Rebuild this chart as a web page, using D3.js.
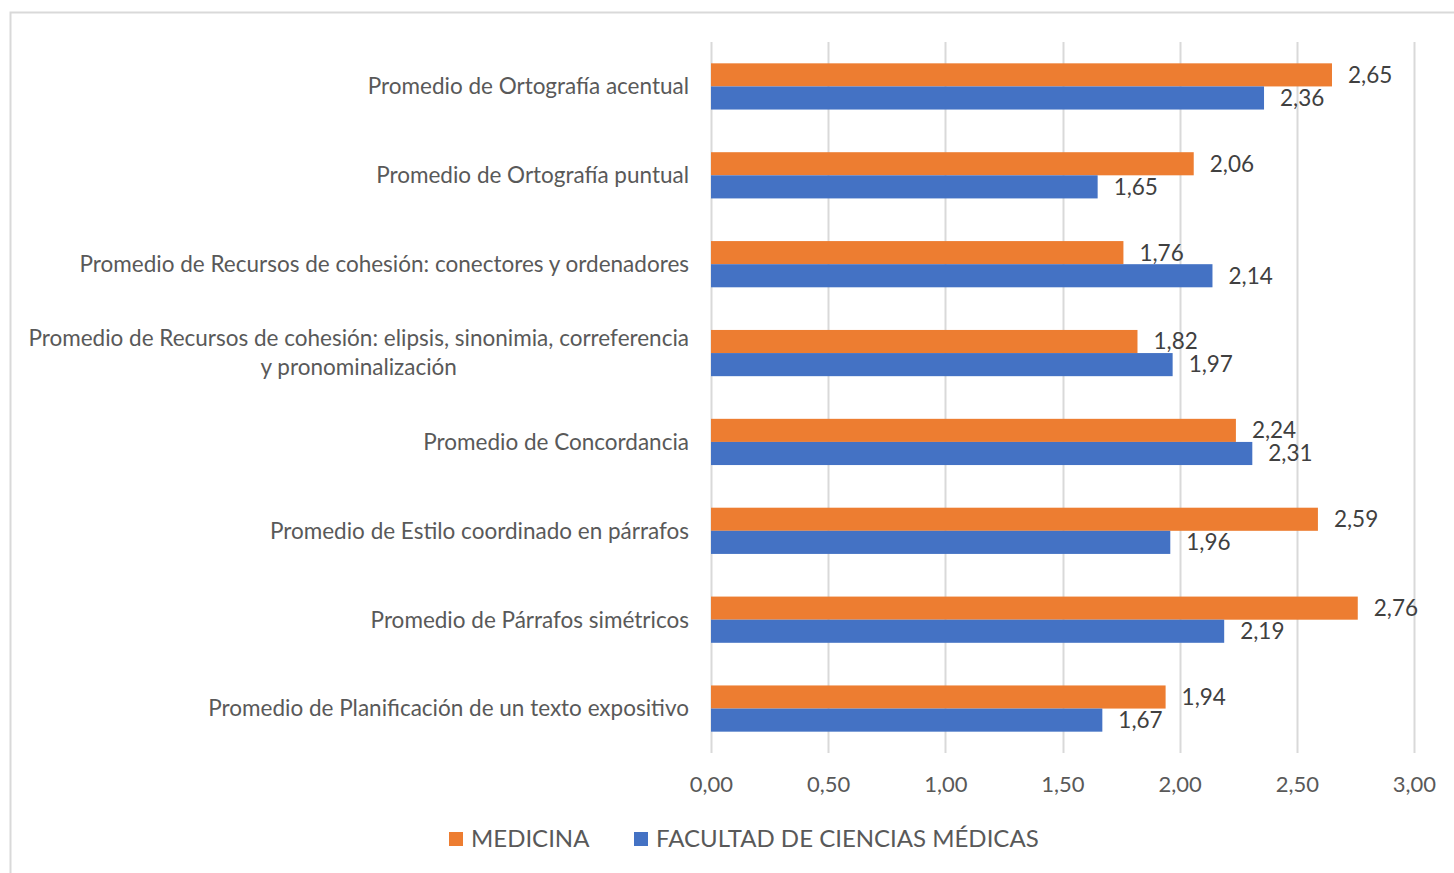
<!DOCTYPE html>
<html>
<head>
<meta charset="utf-8">
<script src="https://cdn.jsdelivr.net/npm/d3@7"></script>
<style>
  body { margin: 0; background: #fff; }
  text { font-family: Lato, "Open Sans", sans-serif; }
</style>
</head>
<body>
<div id="chart"></div>
<script>
// categories (top to bottom), each entry is a list of lines
var categories = [
  ["Promedio de Ortografía acentual"],
  ["Promedio de Ortografía puntual"],
  ["Promedio de Recursos de cohesión: conectores y ordenadores"],
  ["Promedio de Recursos de cohesión: elipsis, sinonimia, correferencia", "y pronominalización"],
  ["Promedio de Concordancia"],
  ["Promedio de Estilo coordinado en párrafos"],
  ["Promedio de Párrafos simétricos"],
  ["Promedio de Planificación de un texto expositivo"]
];
var medicina = [2.65, 2.06, 1.76, 1.82, 2.24, 2.59, 2.76, 1.94];
var facultad = [2.36, 1.65, 2.14, 1.97, 2.31, 1.96, 2.19, 1.67];
var seriesNames = ["MEDICINA", "FACULTAD DE CIENCIAS MÉDICAS"];
var seriesColors = ["#ED7D31", "#4472C4"];
var xTicks = [0, 0.5, 1, 1.5, 2, 2.5, 3];

// chart size
var W = 1454, H = 873;
var plot = {left: 711, right: 1414, top: 42, bottom: 753};

var svg = d3.select("#chart").append("svg")
  .attr("width", W)
  .attr("height", H);

// outer border of the chart area
svg.append("rect")
  .attr("x", 10.5).attr("y", 12.5)
  .attr("width", W + 20).attr("height", H + 20)
  .attr("fill", "none")
  .attr("stroke", "#d9d9d9")
  .attr("stroke-width", 2);

var x = d3.scaleLinear().domain([0, 3]).range([plot.left, plot.right]);
var y = d3.scaleBand().domain(d3.range(categories.length))
  .range([plot.top, plot.bottom]).paddingInner(0.48).paddingOuter(0.24);
var ySub = d3.scaleBand().domain([0, 1]).range([0, y.bandwidth()]);

var fmt = function(v) { return d3.format(".2f")(v).replace(".", ","); };

// gridlines
svg.append("g").selectAll("line").data(xTicks).enter().append("line")
  .attr("x1", function(d) { return Math.round(x(d)) + 0.5; })
  .attr("x2", function(d) { return Math.round(x(d)) + 0.5; })
  .attr("y1", plot.top).attr("y2", plot.bottom)
  .attr("stroke", "#d9d9d9").attr("stroke-width", 2);

// x axis labels
var xAxis = svg.append("g")
  .attr("transform", "translate(0," + (plot.bottom + 31) + ")")
  .call(d3.axisBottom(x).tickValues(xTicks).tickFormat(fmt).tickSize(0).tickPadding(0));
xAxis.select(".domain").remove();
xAxis.selectAll("text")
  .attr("dy", "0.35em")
  .attr("fill", "#595959")
  .style("font-family", "Lato, sans-serif")
  .style("font-size", "22px");

// category labels
var catG = svg.append("g").selectAll("text").data(categories).enter().append("text")
  .attr("fill", "#595959")
  .style("font-size", "22.5px")
  .attr("transform", function(d, i) {
    return "translate(" + (plot.left - 22) + "," + (y(i) + y.bandwidth() / 2) + ")";
  });
catG.each(function(lines) {
  var t = d3.select(this);
  var n = lines.length;
  lines.forEach(function(l, k) {
    t.append("tspan")
      .attr("x", 0)
      .attr("y", (k - (n - 1) / 2) * 29)
      .attr("dy", "0.35em")
      .text(l);
  });
});
// single line: right aligned; multi-line: centred block ending at the axis
catG.attr("text-anchor", function(d) { return d.length > 1 ? "middle" : "end"; })
  .each(function(d) {
    if (d.length > 1) {
      var bb = this.getBBox();
      var cur = d3.select(this).attr("transform");
      d3.select(this).attr("transform", cur + " translate(" + (-bb.width / 2) + ",0)");
    }
  });

// bars and value labels
[medicina, facultad].forEach(function(vals, s) {
  var g = svg.append("g");
  g.selectAll("rect").data(vals).enter().append("rect")
    .attr("x", x(0))
    .attr("y", function(d, i) { return y(i) + ySub(s); })
    .attr("width", function(d) { return x(d) - x(0); })
    .attr("height", ySub.bandwidth())
    .attr("fill", seriesColors[s]);
  g.selectAll("text").data(vals).enter().append("text")
    .attr("x", function(d) { return x(d) + 16; })
    .attr("y", function(d, i) { return y(i) + ySub(s) + ySub.bandwidth() / 2; })
    .attr("dy", "0.35em")
    .attr("fill", "#404040")
    .style("font-size", "22.5px")
    .text(fmt);
});

// legend
var legend = svg.append("g").attr("transform", "translate(449,839)");
var legX = [0, 185];
seriesNames.forEach(function(name, s) {
  legend.append("rect")
    .attr("x", legX[s]).attr("y", -7)
    .attr("width", 14).attr("height", 14)
    .attr("fill", seriesColors[s]);
  legend.append("text")
    .attr("x", legX[s] + 22).attr("y", 0)
    .attr("dy", "0.35em")
    .attr("fill", "#595959")
    .style("font-size", "24px")
    .text(name);
});
</script>
</body>
</html>
